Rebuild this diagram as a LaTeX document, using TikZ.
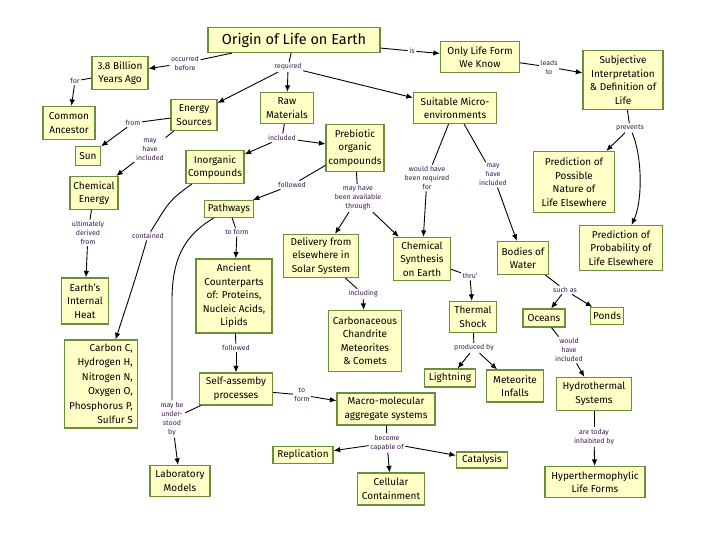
\documentclass[tikz,border=0pt]{standalone}
\usepackage{fontspec}
\setmainfont{Fira Sans}
\usetikzlibrary{arrows.meta}
\definecolor{boxfill}{HTML}{FFFFC6}
\definecolor{boxline}{HTML}{6A8F3A}
\definecolor{labcol}{HTML}{3B1A52}
\tikzset{
  cbox/.style={draw=boxline, fill=boxfill, line width=1.2pt, align=center,
    font=\fontsize{10}{13.5}\selectfont, inner sep=1.5pt},
  wh/.style 2 args={minimum width=#1pt, minimum height=#2pt},
  lab/.style={text=labcol, align=center, font=\fontsize{7}{9}\selectfont, inner sep=1.5pt},
  con/.style={draw=black, line width=0.9pt},
  arr/.style={con, -{Latex[length=6.5pt,width=5.5pt]}},
}
\begin{document}
\begin{tikzpicture}[x=1pt,y=-1pt]
\useasboundingbox (0,0) rectangle (720,540);
% concept boxes
\node[cbox,wh={172}{25},font=\fontsize{14.5}{16}\selectfont] (origin) at (294,40) {Origin of Life on Earth};
\node[cbox,wh={56}{33}] (billion) at (120,73) {3.8 Billion\\Years Ago};
\node[cbox,wh={79}{31}] (onlylife) at (480,57) {Only Life Form\\We Know};
\node[cbox,wh={80}{59}] (subj) at (623,80) {Subjective\\Interpretation\\\& Definition of\\Life};
\node[cbox,wh={52}{33}] (common) at (69,123) {Common\\Ancestor};
\node[cbox,wh={46}{31}] (energy) at (194,115) {Energy\\Sources};
\node[cbox,wh={53}{31}] (raw) at (287,108) {Raw\\Materials};
\node[cbox,wh={83}{31}] (suit) at (455,108) {Suitable Micro-\\environments};
\node[cbox,wh={58}{47}] (preb) at (355,148) {Prebiotic\\organic\\compounds};
\node[cbox,wh={25}{19}] (sun) at (88,156) {Sun};
\node[cbox,wh={58}{33}] (inorg) at (215,167) {Inorganic\\Compounds};
\node[cbox,wh={48}{33}] (chem) at (94,193) {Chemical\\Energy};
\node[cbox,wh={81}{61}] (predposs) at (574,182) {Prediction of\\Possible\\Nature of\\Life Elsewhere};
\node[cbox,wh={49}{17}] (path) at (229,209) {Pathways};
\node[cbox,wh={75}{43}] (deliv) at (321,256) {Delivery from\\elsewhere in\\Solar System};
\node[cbox,wh={57}{43}] (synth) at (422,259) {Chemical\\Synthesis\\on Earth};
\node[cbox,wh={51}{33}] (water) at (523,258) {Bodies of\\Water};
\node[cbox,wh={83}{45}] (predprob) at (621,248) {Prediction of\\Probability of\\Life Elsewhere};
\node[cbox,wh={47}{46}] (heat) at (85,301) {Earth's\\Internal\\Heat};
\node[cbox,wh={76}{74}] (ancient) at (234,296) {Ancient\\Counterparts\\of: Proteins,\\Nucleic Acids,\\Lipids};
\node[cbox,wh={73}{61}] (carb) at (365,341) {Carbonaceous\\Chandrite\\Meteorites\\\& Comets};
\node[cbox,wh={47}{31}] (thermal) at (473,317) {Thermal\\Shock};
\node[cbox,wh={42}{18}] (oceans) at (544,318) {Oceans};
\node[cbox,wh={33}{17}] (ponds) at (607,316) {Ponds};
\node[cbox,wh={73}{88},align=right,font=\fontsize{10}{14.5}\selectfont] (elements) at (101,384) {Carbon C,\\Hydrogen H,\\Nitrogen N,\\Oxygen O,\\Phosphorus P,\\Sulfur S};
\node[cbox,wh={73}{32}] (selfas) at (236,389) {Self-assemby\\processes};
\node[cbox,wh={51}{18}] (light) at (450,378) {Lightning};
\node[cbox,wh={57}{32}] (infall) at (515,386) {Meteorite\\Infalls};
\node[cbox,wh={75}{33}] (hydro) at (594,394) {Hydrothermal\\Systems};
\node[cbox,wh={98}{32}] (macro) at (386,409) {Macro-molecular\\aggregate systems};
\node[cbox,wh={60}{17}] (repl) at (303,455) {Replication};
\node[cbox,wh={51}{16}] (cata) at (482,460) {Catalysis};
\node[cbox,wh={67}{32}] (cell) at (391,489) {Cellular\\Containment};
\node[cbox,wh={60}{31}] (labm) at (180,481) {Laboratory\\Models};
\node[cbox,wh={100}{31}] (hyper) at (595,482) {Hyperthermophylic\\Life Forms};
% linking phrases
\node[lab] (occ) at (185,63) {occurred\\before};
\node[lab] (for) at (75,81) {for};
\node[lab] (is) at (412,51) {is};
\node[lab] (leads) at (549,67) {leads\\to};
\node[lab] (req) at (288,67) {required};
\node[lab] (from) at (133,123) {from};
\node[lab] (mhi1) at (150,150) {may\\have\\included};
\node[lab] (incl) at (282,138) {included};
\node[lab] (foll1) at (292,185) {followed};
\node[lab] (avail) at (358,198) {may have\\been available\\through};
\node[lab] (wouldreq) at (427,178) {would have\\been required\\for};
\node[lab] (mhi2) at (493,175) {may\\have\\included};
\node[lab] (prev) at (630,128) {prevents};
\node[lab] (ult) at (88,233) {ultimately\\derived\\from};
\node[lab] (cont) at (148,236) {contained};
\node[lab] (toform1) at (237,232) {to form};
\node[lab] (incl2) at (363,294) {including};
\node[lab] (thru) at (470,276) {thru'};
\node[lab] (such) at (565,290) {such as};
\node[lab] (foll2) at (236,348) {followed};
\node[lab] (prod) at (474,348) {produced by};
\node[lab] (wouldinc) at (569,350) {would\\have\\included};
\node[lab] (toform2) at (302,395) {to\\form};
\node[lab] (under) at (172,419) {may be\\under-\\stood\\by};
\node[lab] (capable) at (387,443) {become\\capable of};
\node[lab] (inhab) at (594,437) {are today\\inhabited by};
% connectors
\draw[con] (origin) -- (occ); \draw[arr] (occ) -- (billion);
\draw[con] (billion) -- (for); \draw[arr] (for) -- (common);
\draw[con] (origin) -- (is); \draw[arr] (is) -- (onlylife);
\draw[con] (onlylife) -- (leads); \draw[arr] (leads) -- (subj);
\draw[con] (origin) -- (req);
\draw[arr] (req) -- (energy); \draw[arr] (req) -- (raw); \draw[arr] (req) -- (suit);
\draw[con] (energy) -- (from); \draw[arr] (from) -- (sun);
\draw[con] (energy) -- (mhi1); \draw[arr] (mhi1) -- (chem);
\draw[con] (raw) -- (incl); \draw[arr] (incl) -- (inorg); \draw[arr] (incl) -- (preb);
\draw[con] (preb) -- (foll1); \draw[arr] (foll1) -- (path);
\draw[con] (preb) -- (avail); \draw[arr] (avail) -- (deliv); \draw[arr] (avail) -- (synth);
\draw[con] (suit) -- (wouldreq); \draw[arr] (wouldreq) -- (synth);
\draw[con] (suit) -- (mhi2); \draw[arr] (mhi2) -- (water);
\draw[con] (subj) -- (prev); \draw[arr] (prev) -- (predposs);
\draw[arr] (prev) .. controls (642,155) and (643,200) .. (predprob);
\draw[con] (chem) -- (ult); \draw[arr] (ult) -- (heat);
\draw[con] (inorg) .. controls (170,200) .. (cont);
\draw[arr] (cont) .. controls (135,280) .. (elements);
\draw[con] (path) -- (toform1); \draw[arr] (toform1) -- (ancient);
\draw[con] (path) .. controls (185,235) and (172,258) .. (172,300) -- (under);
\draw[con] (deliv) -- (incl2); \draw[arr] (incl2) -- (carb);
\draw[con] (synth) -- (thru); \draw[arr] (thru) -- (thermal);
\draw[con] (water) -- (such); \draw[arr] (such) -- (oceans); \draw[arr] (such) -- (ponds);
\draw[con] (ancient) -- (foll2); \draw[arr] (foll2) -- (selfas);
\draw[con] (thermal) -- (prod); \draw[arr] (prod) -- (light); \draw[arr] (prod) -- (infall);
\draw[con] (oceans) -- (wouldinc); \draw[arr] (wouldinc) -- (hydro);
\draw[con] (selfas) -- (toform2); \draw[arr] (toform2) -- (macro);
\draw[con] (selfas) -- (under); \draw[arr] (under) -- (labm);
\draw[con] (macro) -- (capable);
\draw[arr] (capable) -- (repl); \draw[arr] (capable) -- (cata); \draw[arr] (capable) -- (cell);
\draw[con] (hydro) -- (inhab); \draw[arr] (inhab) -- (hyper);
\end{tikzpicture}
\end{document}
